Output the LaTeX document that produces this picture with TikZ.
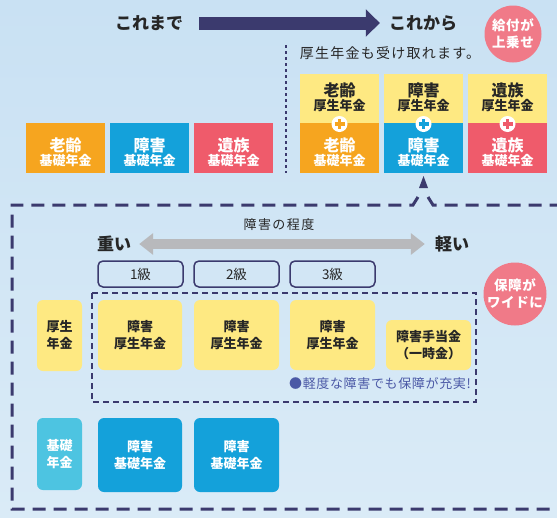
\documentclass[tikz,border=0pt]{standalone}
\usepackage{fontspec}
\newfontfamily\jp{Noto Sans CJK JP}
\usetikzlibrary{arrows.meta,calc}
\definecolor{navy}{HTML}{3B3A6E}
\definecolor{jorange}{HTML}{F6A51F}
\definecolor{jblue}{HTML}{14A1DA}
\definecolor{jred}{HTML}{EF5B6B}
\definecolor{jyellow}{HTML}{FEE982}
\definecolor{jlblue}{HTML}{4DC4E1}
\definecolor{jpink}{HTML}{F07A88}
\definecolor{jgray}{HTML}{B8B9BC}
\definecolor{bgtop}{HTML}{C9E1F3}
\definecolor{bgbot}{HTML}{DAEBF7}
\definecolor{txtdark}{HTML}{262626}
\definecolor{annot}{HTML}{4B59A6}
\newcommand\jfs[1]{\fontsize{#1}{17}\selectfont}
\newcommand\jtrack[1]{\addfontfeatures{LetterSpace=#1}}
\begin{document}
\begin{tikzpicture}[x=1pt,y=-1pt,
  sqbox/.style={inner sep=0,outer sep=0,draw=none,fill=#1},
  rbox/.style={inner sep=0,outer sep=0,draw=none,fill=#1,rounded corners=6pt},
  wtxt/.style={text=white,font=\jp\bfseries,align=center,inner sep=0},
  dtxt/.style={text=txtdark,font=\jp\bfseries,align=center,inner sep=0},
  gradebox/.style={draw=navy,line width=1.5pt,rounded corners=5pt,minimum width=85pt,minimum height=26pt,inner sep=0,text=txtdark,font=\jp\jfs{13.5}},
  pinkdot/.style={circle,fill=jpink,minimum size=#1,inner sep=0,text=white,font=\jp\bfseries\jfs{13.5}\jtrack{4},align=center},
  pluscirc/.style={circle,fill=white,minimum size=16pt,inner sep=0},
  plusbar/.style={#1,line width=3.5pt},
]
\shade[top color=bgtop,bottom color=bgbot] (0,0) rectangle (557,517);
\path[use as bounding box] (0,0) rectangle (557,517);

% header
\node[dtxt,font=\jp\bfseries\jfs{17}] (before) at (149,23) {これまで};
\node[dtxt,font=\jp\bfseries\jfs{17}] (after) at (423,23) {これから};
\draw[navy,line width=13pt,-{Triangle[length=14pt,width=27pt]},shorten <=16pt,shorten >=9pt] (before.east) -- (after.west);
\node[pinkdot=57pt] (plus1) at (513,34) {給付が\\上乗せ};

% divider
\coordinate (divtop) at (286,45);
\coordinate (divbot) at (286,173);
\draw[navy,line width=2.5pt,dash pattern=on 3pt off 3pt] (divtop) -- (divbot);
\node[text=txtdark,font=\jp\jfs{14}\jtrack{9},inner sep=0] (also) at (390,53) {厚生年金も受け取れます。};

% left boxes
\node[sqbox=jorange,minimum width=79pt,minimum height=50pt] (l1) at (65.5,148) {};
\node[sqbox=jblue,minimum width=79pt,minimum height=50pt] (l2) at (149.5,148) {};
\node[sqbox=jred,minimum width=79pt,minimum height=50pt] (l3) at (233.5,148) {};
\node[wtxt] (l1t) at ($(l1.center)+(0,4)$) {\jfs{16}老齢\\\jfs{13}基礎年金};
\node[wtxt] (l2t) at ($(l2.center)+(0,4)$) {\jfs{16}障害\\\jfs{13}基礎年金};
\node[wtxt] (l3t) at ($(l3.center)+(0,4)$) {\jfs{16}遺族\\\jfs{13}基礎年金};

% right columns
\node[sqbox=jyellow,minimum width=79pt,minimum height=49pt] (c1a) at (339.5,98.5) {};
\node[sqbox=jyellow,minimum width=79pt,minimum height=49pt] (c2a) at (423.5,98.5) {};
\node[sqbox=jyellow,minimum width=79pt,minimum height=49pt] (c3a) at (507.5,98.5) {};
\node[sqbox=jorange,minimum width=79pt,minimum height=50pt] (c1b) at (339.5,148) {};
\node[sqbox=jblue,minimum width=79pt,minimum height=50pt] (c2b) at (423.5,148) {};
\node[sqbox=jred,minimum width=79pt,minimum height=50pt] (c3b) at (507.5,148) {};
\node[dtxt] (c1at) at ($(c1a.center)+(0,-1.5)$) {\jfs{16}老齢\\\jfs{13}厚生年金};
\node[dtxt] (c2at) at ($(c2a.center)+(0,-1.5)$) {\jfs{16}障害\\\jfs{13}厚生年金};
\node[dtxt] (c3at) at ($(c3a.center)+(0,-1.5)$) {\jfs{16}遺族\\\jfs{13}厚生年金};
\node[wtxt] (c1bt) at ($(c1b.center)+(0,4)$) {\jfs{16}老齢\\\jfs{13}基礎年金};
\node[wtxt] (c2bt) at ($(c2b.center)+(0,4)$) {\jfs{16}障害\\\jfs{13}基礎年金};
\node[wtxt] (c3bt) at ($(c3b.center)+(0,4)$) {\jfs{16}遺族\\\jfs{13}基礎年金};
\foreach \c/\col in {1/jorange,2/jblue,3/jred}{
  \node[pluscirc] (p\c) at ($(c\c a.south)+(0,1)$) {};
  \draw[plusbar=\col] ($(p\c.center)+(-5,0)$) -- ($(p\c.center)+(5,0)$);
  \draw[plusbar=\col] ($(p\c.center)+(0,-5)$) -- ($(p\c.center)+(0,5)$);
}

% pointer to middle column + big dashed frame
\fill[navy] ($(c2b.south)+(0,3)$) -- ++(4.5,12) -- ++(-9,0) -- cycle;
\coordinate (nl) at (418,197);
\coordinate (nr) at (428,197);
\draw[navy,line width=3pt,dash pattern=on 13pt off 8pt,line join=miter]
  (nl) -- (413,205) -- (12,205) -- (12,509) -- (562,509);
\draw[navy,line width=3pt,dash pattern=on 13pt off 8pt,line join=miter]
  (nr) -- (433,205) -- (562,205);

% severity
\node[text=txtdark,font=\jp\jfs{13}\jtrack{11},inner sep=0] (degree) at (279,225) {障害の程度};
\node[dtxt,font=\jp\bfseries\jfs{17}] (heavy) at (114,244) {重い};
\node[dtxt,font=\jp\bfseries\jfs{17}] (light) at (452,244) {軽い};
\draw[jgray,line width=10pt,{Triangle[length=14pt,width=21pt]}-{Triangle[length=14pt,width=21pt]},shorten <=8pt,shorten >=10pt] (heavy.east) -- (light.west);

\node[gradebox] (g1) at (140.5,274) {1級};
\node[gradebox] (g2) at (236.5,274) {2級};
\node[gradebox] (g3) at (332.5,274) {3級};

\node[pinkdot=58pt] (wide) at (515,294) {保障が\\ワイドに};

% inner dashed frame
\draw[navy,line width=2pt,dash pattern=on 6pt off 4pt] (92,293) rectangle (476,402);

% employee pension row
\node[rbox=jyellow,minimum width=45pt,minimum height=71pt] (kosei) at (59.5,335.5) {};
\node[dtxt,font=\jp\bfseries\jfs{13}] (koseit) at (kosei.center) {厚生\\年金};
\node[rbox=jyellow,minimum width=84pt,minimum height=70pt] (y1) at (140,335) {};
\node[rbox=jyellow,minimum width=85pt,minimum height=70pt] (y2) at (236.5,335) {};
\node[rbox=jyellow,minimum width=85pt,minimum height=70pt] (y3) at (332.5,335) {};
\node[rbox=jyellow,minimum width=85pt,minimum height=50pt] (y4) at (428.5,345) {};
\node[dtxt,font=\jp\bfseries\jfs{13}] (y1t) at (y1.center) {障害\\厚生年金};
\node[dtxt,font=\jp\bfseries\jfs{13}] (y2t) at (y2.center) {障害\\厚生年金};
\node[dtxt,font=\jp\bfseries\jfs{13}] (y3t) at (y3.center) {障害\\厚生年金};
\node[dtxt,font=\jp\bfseries\jfs{13}] (y4t) at (y4.center) {障害手当金\\（一時金）};
\node[anchor=east,text=annot,font=\jp\jfs{13}\jtrack{5},inner sep=0] (note) at (471,384) {●軽度な障害でも保障が充実!};

% basic pension row
\node[rbox=jlblue,minimum width=45pt,minimum height=72pt] (kiso) at (59.5,454) {};
\node[wtxt,font=\jp\bfseries\jfs{13}] (kisot) at (kiso.center) {基礎\\年金};
\node[rbox=jblue,minimum width=84pt,minimum height=74pt] (b1) at (140,455) {};
\node[rbox=jblue,minimum width=85pt,minimum height=74pt] (b2) at (236.5,455) {};
\node[wtxt,font=\jp\bfseries\jfs{13}] (b1t) at (b1.center) {障害\\基礎年金};
\node[wtxt,font=\jp\bfseries\jfs{13}] (b2t) at (b2.center) {障害\\基礎年金};
\end{tikzpicture}
\end{document}
